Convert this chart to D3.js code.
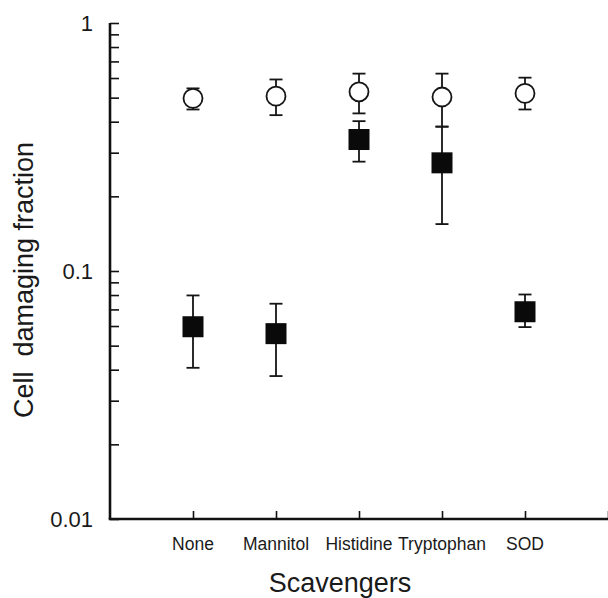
<!DOCTYPE html>
<html>
<head>
<meta charset="utf-8">
<script src="https://cdn.jsdelivr.net/npm/d3@7"></script>
<style>
  html, body { margin: 0; padding: 0; background: #fff; }
  svg { display: block; }
  text { font-family: "Liberation Sans", Arial, Helvetica, sans-serif; fill: #1a1a1a; }
</style>
</head>
<body>
<svg id="chart" width="608" height="598"></svg>
<script>
// Scavenger treatments along the x axis
const categories = ["None", "Mannitol", "Histidine", "Tryptophan", "SOD"];

// Open circles: fraction with error range
const openValues = [0.497, 0.507, 0.528, 0.503, 0.520];
const openUpper  = [0.545, 0.592, 0.625, 0.625, 0.602];
const openLower  = [0.448, 0.425, 0.432, 0.382, 0.448];

// Filled squares: fraction with error range
const filledValues = [0.0596, 0.0559, 0.339, 0.273, 0.0685];
const filledUpper  = [0.0797, 0.0738, 0.402, 0.382, 0.0804];
const filledLower  = [0.0407, 0.0377, 0.276, 0.1546, 0.0594];

// Y axis labelled decades
const yTickLabels = [0.01, 0.1, 1];

const svg = d3.select("#chart");
const plotLeft = 110, plotRight = 608, plotTop = 23, plotBottom = 519;

const x = d3.scaleLinear().domain([0, 6]).range([plotLeft, plotRight]);
const y = d3.scaleLog().domain([0.01, 1]).range([plotBottom, plotTop]);

// Minor ticks on every 1..9 multiple of each decade
const minorTicks = [];
[0.01, 0.1].forEach(d => { for (let k = 2; k <= 9; k++) minorTicks.push(d * k); });

const yAxis = d3.axisRight(y)
  .tickValues(yTickLabels.concat(minorTicks))
  .tickSize(9)
  .tickFormat("");
const gy = svg.append("g").attr("transform", `translate(${plotLeft},0)`).call(yAxis);
gy.select(".domain").attr("stroke", "#111").attr("stroke-width", 2.6).attr("d", `M0,${plotTop}V${plotBottom}`);
gy.selectAll(".tick line").attr("stroke", "#111").attr("stroke-width", 1.6);

// Tick labels for the decades
svg.selectAll(".ylab").data(yTickLabels).join("text")
  .attr("class", "ylab")
  .attr("x", plotLeft - 17)
  .attr("y", d => y(d))
  .attr("dy", "0.36em")
  .attr("text-anchor", "end")
  .style("font-size", "22px")
  .text(d => String(d));

const xAxis = d3.axisTop(x).tickValues([1, 2, 3, 4, 5, 6]).tickSize(8).tickFormat("");
const gx = svg.append("g").attr("transform", `translate(0,${plotBottom})`).call(xAxis);
gx.select(".domain").attr("stroke", "#111").attr("stroke-width", 2.6).attr("d", `M${plotLeft - 1.3},0H${plotRight}`);
gx.selectAll(".tick line").attr("stroke", "#111").attr("stroke-width", 1.6);

svg.selectAll(".xlab").data(categories).join("text")
  .attr("class", "xlab")
  .attr("x", (d, i) => x(i + 1))
  .attr("y", 550)
  .attr("text-anchor", "middle")
  .style("font-size", "17.5px")
  .text(d => d);

// Axis titles
svg.append("text")
  .attr("x", 340).attr("y", 592)
  .attr("text-anchor", "middle")
  .style("font-size", "27px")
  .text("Scavengers");

svg.append("text")
  .attr("transform", "translate(33,280) rotate(-90)")
  .attr("text-anchor", "middle")
  .style("font-size", "27px")
  .style("white-space", "pre")
  .text("Cell  damaging fraction");

// Error bars with caps
function errorBars(cls, values, lo, hi) {
  const g = svg.append("g").attr("class", cls).attr("stroke", "#151515").attr("stroke-width", 1.8);
  const rows = values.map((v, i) => ({ i, lo: lo[i], hi: hi[i] }));
  g.selectAll("line.v").data(rows).join("line").attr("class", "v")
    .attr("x1", d => x(d.i + 1)).attr("x2", d => x(d.i + 1))
    .attr("y1", d => y(d.hi)).attr("y2", d => y(d.lo));
  ["hi", "lo"].forEach(k => {
    g.selectAll("line.c" + k).data(rows).join("line").attr("class", "c" + k)
      .attr("x1", d => x(d.i + 1) - 6.5).attr("x2", d => x(d.i + 1) + 6.5)
      .attr("y1", d => y(d[k])).attr("y2", d => y(d[k]));
  });
}
errorBars("err-filled", filledValues, filledLower, filledUpper);
errorBars("err-open", openValues, openLower, openUpper);

// Filled squares
const sq = 21;
svg.append("g").selectAll("rect").data(filledValues).join("rect")
  .attr("x", (d, i) => x(i + 1) - sq / 2)
  .attr("y", d => y(d) - sq / 2)
  .attr("width", sq).attr("height", sq)
  .attr("fill", "#0a0a0a");

// Open circles
svg.append("g").selectAll("circle").data(openValues).join("circle")
  .attr("cx", (d, i) => x(i + 1))
  .attr("cy", d => y(d))
  .attr("r", 9.5)
  .attr("fill", "#fff")
  .attr("stroke", "#151515")
  .attr("stroke-width", 1.8);
</script>
</body>
</html>
